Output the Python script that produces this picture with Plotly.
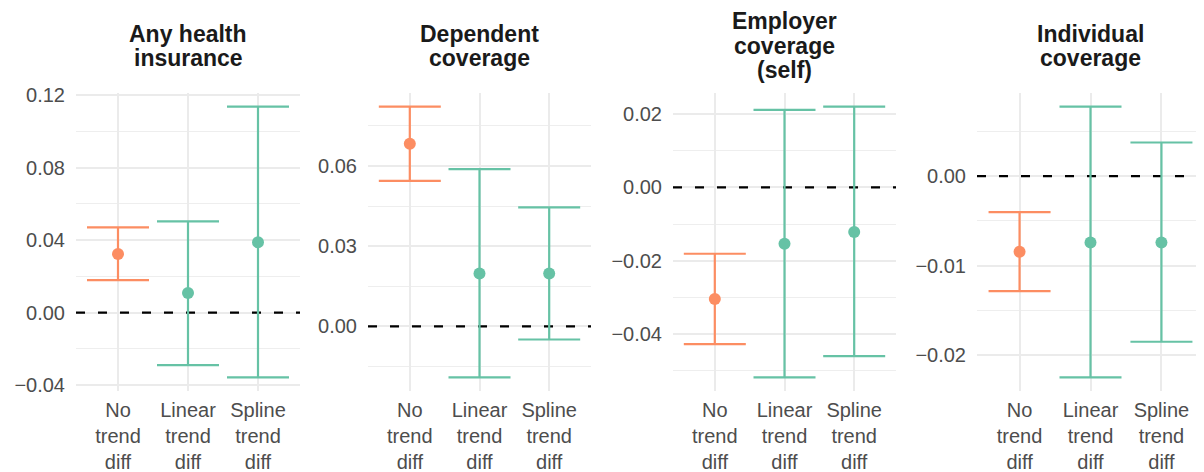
import plotly.graph_objects as go

# ---- data ----
panels = [["Any health", "insurance"], ["Dependent", "coverage"],
          ["Employer", "coverage", "(self)"], ["Individual", "coverage"]]
categories = ["No<br>trend<br>diff", "Linear<br>trend<br>diff", "Spline<br>trend<br>diff"]
estimates = [
    [0.0324, 0.0109, 0.0388],
    [0.0683, 0.0198, 0.0198],
    [-0.0304, -0.0154, -0.0122],
    [-0.00844, -0.0074, -0.0074],
]
upper = [
    [0.0471, 0.0504, 0.1137],
    [0.0822, 0.0588, 0.0445],
    [-0.0181, 0.0211, 0.0220],
    [-0.00401, 0.00776, 0.00375],
]
lower = [
    [0.0180, -0.0289, -0.0357],
    [0.0544, -0.0191, -0.0049],
    [-0.0427, -0.0518, -0.0460],
    [-0.01282, -0.02245, -0.01847],
]
reference_line = 0.0
tick_step = [0.04, 0.03, 0.02, 0.01]
colors = ["#FC8D62", "#66C2A5", "#66C2A5"]

# page body has an 8px margin, so the figure is drawn 8px in from the window's corner
OFF = 8
W, H = 1204 - OFF, 472 - OFF
x_domains_px = [(76 - OFF, 300 - OFF), (368 - OFF, 591 - OFF), (673 - OFF, 896 - OFF), (977 - OFF, 1196)]
y_top_px, y_bot_px = 93 - OFF, 391 - OFF
title_center_px = 46 - OFF
title_line_px = 24.5

fig = go.Figure()
font_family = "Liberation Sans, Arial, sans-serif"

for i in range(4):
    xa = "x" if i == 0 else f"x{i+1}"
    ya = "y" if i == 0 else f"y{i+1}"
    # dashed zero reference line (drawn first, below the error bars)
    fig.add_trace(go.Scatter(
        x=[-0.6, 2.6], y=[reference_line, reference_line], xaxis=xa, yaxis=ya, mode="lines",
        line=dict(color="black", width=2.2, dash="9px,13px"),
        showlegend=False, hoverinfo="skip"))
    for j in range(3):
        est = estimates[i][j]
        fig.add_trace(go.Scatter(
            x=[j], y=[est], xaxis=xa, yaxis=ya, mode="markers",
            marker=dict(color=colors[j], size=12),
            error_y=dict(type="data", symmetric=False,
                         array=[upper[i][j] - est], arrayminus=[est - lower[i][j]],
                         color=colors[j], thickness=2.2, width=31),
            showlegend=False, hoverinfo="skip"))
    lo = min(min(lower[i]), reference_line)
    hi = max(max(upper[i]), reference_line)
    pad = (hi - lo) * 0.05
    d0, d1 = x_domains_px[i]
    axkey = "" if i == 0 else str(i + 1)
    fig.layout["xaxis" + axkey] = dict(
        domain=[d0 / W, d1 / W], range=[-0.6, 2.6], anchor=ya, automargin=False,
        tickvals=[0, 1, 2], ticktext=categories, ticklabelstandoff=5,
        showgrid=True, gridcolor="#EBEBEB", gridwidth=1.6, zeroline=False,
        showline=False, ticks="", tickfont=dict(size=20, color="#4D4D4D", family=font_family),
        fixedrange=True)
    fig.layout["yaxis" + axkey] = dict(
        domain=[1 - y_bot_px / H, 1 - y_top_px / H], range=[lo - pad, hi + pad], anchor=xa,
        automargin=False, dtick=tick_step[i], tick0=0, tickformat=".2f",
        showgrid=True, gridcolor="#EBEBEB", gridwidth=1.6, zeroline=False,
        minor=dict(dtick=tick_step[i] / 2, tick0=0, showgrid=True, gridcolor="#EEEEEE", gridwidth=0.9),
        showline=False, ticks="", ticklabelstandoff=10,
        tickfont=dict(size=20, color="#4D4D4D", family=font_family), fixedrange=True)
    lines = panels[i]
    n = len(lines)
    for k, txt in enumerate(lines):
        ypx = title_center_px + (k - (n - 1) / 2) * title_line_px
        fig.add_annotation(text=f"<b>{txt}</b>", xref="paper", yref="paper",
                           x=(d0 + d1) / 2 / W, y=1 - ypx / H, xanchor="center", yanchor="middle",
                           showarrow=False, font=dict(size=23, color="#1A1A1A", family=font_family))

fig.update_layout(width=W, height=H, margin=dict(l=0, r=0, t=0, b=0, autoexpand=False),
                  plot_bgcolor="white", paper_bgcolor="white")
fig.write_html("out.html")
